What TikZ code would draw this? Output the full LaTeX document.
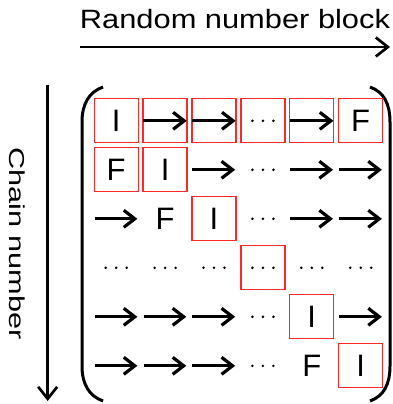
\documentclass[tikz,border=0pt]{standalone}
\usepackage{fontspec}
\setmainfont{Liberation Sans}
\usepackage{graphicx}
\usetikzlibrary{arrows.meta}
\definecolor{boxred}{RGB}{255,40,40}
\begin{document}
\begin{tikzpicture}[x=1pt,y=-1pt,
  cell/.style={minimum size=44pt, inner sep=0pt, font=\fontsize{31}{31}\selectfont},
  boxed/.style={draw=boxred, line width=1.3pt},
  plain/.style={},
  cellarrow/.style={line width=3.2pt, -{Straight Barb[length=11pt,width=17pt]}, shorten <=0.6pt, shorten >=1pt},
  axisarrow/.style={line width=2.7pt, -{Straight Barb[length=12pt,width=19pt]}},
  paren/.style={line width=3pt},
  dotmark/.style={fill=black}]
\useasboundingbox (0,0) rectangle (392,404);
% title and axes
\node[inner sep=0pt, font=\fontsize{26.5}{26.5}\selectfont] (title) at (235,18.7) {\scalebox{1.163}[1]{Random number block}};
\coordinate (ta) at (80,47);
\coordinate (tb) at (390,47);
\draw[axisarrow] (ta) -- (tb);
\node[inner sep=0pt, rotate=-90, font=\fontsize{21.6}{21.6}\selectfont] (chain) at (17.5,243.5) {\scalebox{1.42}[1]{Chain number}};
\coordinate (da) at (47.7,85);
\coordinate (db) at (47.7,401);
\draw[axisarrow] (da) -- (db);
% parentheses
\draw[paren] (103,87) .. controls (89,92) and (82,104) .. (82,122) -- (82,366) .. controls (82,384) and (89,396) .. (103,401);
\draw[paren] (370,87) .. controls (384,92) and (390,104) .. (390,122) -- (390,366) .. controls (390,384) and (384,396) .. (370,401);
% cells
\foreach \r/\c/\t/\s in {
  1/1/I/boxed, 1/2/{}/boxed, 1/3/{}/boxed, 1/4/{}/boxed, 1/5/{}/boxed, 1/6/F/boxed,
  2/1/F/boxed, 2/2/I/boxed, 2/3/{}/plain, 2/4/{}/plain, 2/5/{}/plain, 2/6/{}/plain,
  3/1/{}/plain, 3/2/F/plain, 3/3/I/boxed, 3/4/{}/plain, 3/5/{}/plain, 3/6/{}/plain,
  4/1/{}/plain, 4/2/{}/plain, 4/3/{}/plain, 4/4/{}/boxed, 4/5/{}/plain, 4/6/{}/plain,
  5/1/{}/plain, 5/2/{}/plain, 5/3/{}/plain, 5/4/{}/plain, 5/5/I/boxed, 5/6/{}/plain,
  6/1/{}/plain, 6/2/{}/plain, 6/3/{}/plain, 6/4/{}/plain, 6/5/F/plain, 6/6/I/boxed}
  \node[cell,\s] (c\r\c) at ({116.2+48.9*(\c-1)},{120.8+49*(\r-1)}) {\t};
% arrows inside cells
\foreach \n in {c12,c13,c15,c23,c25,c26,c31,c35,c36,c51,c52,c53,c56,c61,c62,c63}
  \draw[cellarrow] (\n.west) -- (\n.east);
% ellipses
\foreach \n in {c14,c24,c34,c41,c42,c43,c44,c45,c46,c54,c64}
  \foreach \d in {-10.5,0,10.5}
    \fill[dotmark] ([xshift=\d pt]\n.center) circle (1.4);
\end{tikzpicture}
\end{document}
